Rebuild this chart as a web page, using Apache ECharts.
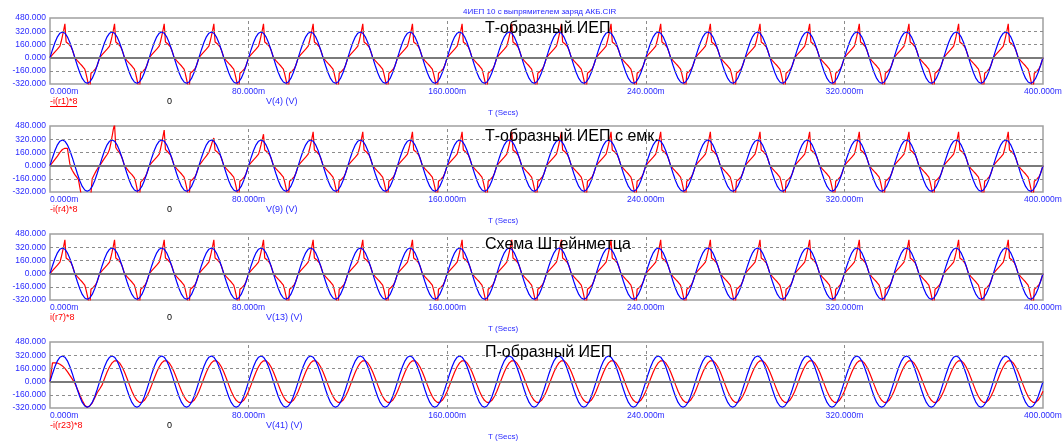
<!DOCTYPE html>
<html><head><meta charset="utf-8">
<script src="https://cdn.jsdelivr.net/npm/echarts@6/dist/echarts.min.js"></script>
<style>html,body{margin:0;padding:0;background:#fff}#c{width:1063px;height:443px}</style>
</head><body><div id="c"></div>
<script>
const fileTitle = '4ИЕП 10 с выпрямителем заряд АКБ.CIR';
const panelTitles = ['Т-образный ИЕП', 'Т-образный ИЕП с емк.', 'Схема Штейнметца', 'П-образный ИЕП'];
const currentLabels = ['-i(r1)*8', '-i(r4)*8', 'i(r7)*8', '-i(r23)*8'];
const voltageLabels = ['V(4) (V)', 'V(9) (V)', 'V(13) (V)', 'V(41) (V)'];
const xAxisName = 'T (Secs)';
const xTicks = [0, 80, 160, 240, 320, 400];
const yTicks = [-320, -160, 0, 160, 320, 480];
const voltageStepMs = 1;
const currentStepMs = [0.5, 0.5, 0.5, 1];

// source voltage, same in all four panels (1 ms samples)
const voltage = [
0,96,183,252,296,311,296,252,183,96,0,-96,-183,-252,-296,-311,-296,-252,-183,-96,
0,96,183,252,296,311,296,252,183,96,0,-96,-183,-252,-296,-311,-296,-252,-183,-96,
0,96,183,252,296,311,296,252,183,96,0,-96,-183,-252,-296,-311,-296,-252,-183,-96,
0,96,183,252,296,311,296,252,183,96,0,-96,-183,-252,-296,-311,-296,-252,-183,-96,
0,96,183,252,296,311,296,252,183,96,0,-96,-183,-252,-296,-311,-296,-252,-183,-96,
0,96,183,252,296,311,296,252,183,96,0,-96,-183,-252,-296,-311,-296,-252,-183,-96,
0,96,183,252,296,311,296,252,183,96,0,-96,-183,-252,-296,-311,-296,-252,-183,-96,
0,96,183,252,296,311,296,252,183,96,0,-96,-183,-252,-296,-311,-296,-252,-183,-96,
0,96,183,252,296,311,296,252,183,96,0,-96,-183,-252,-296,-311,-296,-252,-183,-96,
0,96,183,252,296,311,296,252,183,96,0,-96,-183,-252,-296,-311,-296,-252,-183,-96,
0,96,183,252,296,311,296,252,183,96,0,-96,-183,-252,-296,-311,-296,-252,-183,-96,
0,96,183,252,296,311,296,252,183,96,0,-96,-183,-252,-296,-311,-296,-252,-183,-96,
0,96,183,252,296,311,296,252,183,96,0,-96,-183,-252,-296,-311,-296,-252,-183,-96,
0,96,183,252,296,311,296,252,183,96,0,-96,-183,-252,-296,-311,-296,-252,-183,-96,
0,96,183,252,296,311,296,252,183,96,0,-96,-183,-252,-296,-311,-296,-252,-183,-96,
0,96,183,252,296,311,296,252,183,96,0,-96,-183,-252,-296,-311,-296,-252,-183,-96,
0,96,183,252,296,311,296,252,183,96,0,-96,-183,-252,-296,-311,-296,-252,-183,-96,
0,96,183,252,296,311,296,252,183,96,0,-96,-183,-252,-296,-311,-296,-252,-183,-96,
0,96,183,252,296,311,296,252,183,96,0,-96,-183,-252,-296,-311,-296,-252,-183,-96,
0,96,183,252,296,311,296,252,183,96,0,-96,-183,-252,-296,-311,-296,-252,-183,-96,
0];

// -i(r1)*8, 0.5 ms samples
const currentR1 = [
0,18,36,54,70,86,102,118,140,195,260,330,410,190,178,165,150,130,95,50,0,-18,-36,-54,-70,-86,-102,-118,-140,-195,-260,-330,-410,-190,-178,-165,-150,-130,-95,-50,
0,18,36,54,70,86,102,118,140,195,260,330,410,190,178,165,150,130,95,50,0,-18,-36,-54,-70,-86,-102,-118,-140,-195,-260,-330,-410,-190,-178,-165,-150,-130,-95,-50,
0,18,36,54,70,86,102,118,140,195,260,330,410,190,178,165,150,130,95,50,0,-18,-36,-54,-70,-86,-102,-118,-140,-195,-260,-330,-410,-190,-178,-165,-150,-130,-95,-50,
0,18,36,54,70,86,102,118,140,195,260,330,410,190,178,165,150,130,95,50,0,-18,-36,-54,-70,-86,-102,-118,-140,-195,-260,-330,-410,-190,-178,-165,-150,-130,-95,-50,
0,18,36,54,70,86,102,118,140,195,260,330,410,190,178,165,150,130,95,50,0,-18,-36,-54,-70,-86,-102,-118,-140,-195,-260,-330,-410,-190,-178,-165,-150,-130,-95,-50,
0,18,36,54,70,86,102,118,140,195,260,330,410,190,178,165,150,130,95,50,0,-18,-36,-54,-70,-86,-102,-118,-140,-195,-260,-330,-410,-190,-178,-165,-150,-130,-95,-50,
0,18,36,54,70,86,102,118,140,195,260,330,410,190,178,165,150,130,95,50,0,-18,-36,-54,-70,-86,-102,-118,-140,-195,-260,-330,-410,-190,-178,-165,-150,-130,-95,-50,
0,18,36,54,70,86,102,118,140,195,260,330,410,190,178,165,150,130,95,50,0,-18,-36,-54,-70,-86,-102,-118,-140,-195,-260,-330,-410,-190,-178,-165,-150,-130,-95,-50,
0,18,36,54,70,86,102,118,140,195,260,330,410,190,178,165,150,130,95,50,0,-18,-36,-54,-70,-86,-102,-118,-140,-195,-260,-330,-410,-190,-178,-165,-150,-130,-95,-50,
0,18,36,54,70,86,102,118,140,195,260,330,410,190,178,165,150,130,95,50,0,-18,-36,-54,-70,-86,-102,-118,-140,-195,-260,-330,-410,-190,-178,-165,-150,-130,-95,-50,
0,18,36,54,70,86,102,118,140,195,260,330,410,190,178,165,150,130,95,50,0,-18,-36,-54,-70,-86,-102,-118,-140,-195,-260,-330,-410,-190,-178,-165,-150,-130,-95,-50,
0,18,36,54,70,86,102,118,140,195,260,330,410,190,178,165,150,130,95,50,0,-18,-36,-54,-70,-86,-102,-118,-140,-195,-260,-330,-410,-190,-178,-165,-150,-130,-95,-50,
0,18,36,54,70,86,102,118,140,195,260,330,410,190,178,165,150,130,95,50,0,-18,-36,-54,-70,-86,-102,-118,-140,-195,-260,-330,-410,-190,-178,-165,-150,-130,-95,-50,
0,18,36,54,70,86,102,118,140,195,260,330,410,190,178,165,150,130,95,50,0,-18,-36,-54,-70,-86,-102,-118,-140,-195,-260,-330,-410,-190,-178,-165,-150,-130,-95,-50,
0,18,36,54,70,86,102,118,140,195,260,330,410,190,178,165,150,130,95,50,0,-18,-36,-54,-70,-86,-102,-118,-140,-195,-260,-330,-410,-190,-178,-165,-150,-130,-95,-50,
0,18,36,54,70,86,102,118,140,195,260,330,410,190,178,165,150,130,95,50,0,-18,-36,-54,-70,-86,-102,-118,-140,-195,-260,-330,-410,-190,-178,-165,-150,-130,-95,-50,
0,18,36,54,70,86,102,118,140,195,260,330,410,190,178,165,150,130,95,50,0,-18,-36,-54,-70,-86,-102,-118,-140,-195,-260,-330,-410,-190,-178,-165,-150,-130,-95,-50,
0,18,36,54,70,86,102,118,140,195,260,330,410,190,178,165,150,130,95,50,0,-18,-36,-54,-70,-86,-102,-118,-140,-195,-260,-330,-410,-190,-178,-165,-150,-130,-95,-50,
0,18,36,54,70,86,102,118,140,195,260,330,410,190,178,165,150,130,95,50,0,-18,-36,-54,-70,-86,-102,-118,-140,-195,-260,-330,-410,-190,-178,-165,-150,-130,-95,-50,
0,18,36,54,70,86,102,118,140,195,260,330,410,190,178,165,150,130,95,50,0,-18,-36,-54,-70,-86,-102,-118,-140,-195,-260,-330,-410,-190,-178,-165,-150,-130,-95,-50,
0];

// -i(r4)*8, 0.5 ms samples (start-up transient in the first cycles)
const currentR4 = [
0,15,35,55,75,95,115,135,160,180,195,205,210,212,210,200,20,-30,-60,-85,-110,-130,-150,-175,-260,-340,-360,-370,-370,-370,-365,-360,-350,-340,-160,-130,-100,-70,-45,-20,
0,20,45,65,90,110,135,160,200,270,350,440,500,220,195,175,155,130,95,50,0,-20,-40,-60,-80,-95,-110,-125,-150,-200,-270,-350,-420,-200,-185,-170,-150,-130,-95,-50,
0,18,36,54,70,86,102,118,140,200,270,350,430,195,180,165,150,130,95,50,0,-18,-36,-54,-70,-86,-102,-118,-140,-195,-260,-330,-410,-190,-178,-165,-150,-130,-95,-50,
0,20,40,60,80,100,118,136,160,205,250,300,335,185,175,162,150,130,95,50,0,-18,-36,-54,-70,-86,-102,-118,-140,-195,-260,-330,-410,-190,-178,-165,-150,-130,-95,-50,
0,18,36,54,70,86,102,118,140,190,250,315,380,190,178,165,150,130,95,50,0,-18,-36,-54,-70,-86,-102,-118,-140,-195,-260,-330,-410,-190,-178,-165,-150,-130,-95,-50,
0,18,36,54,70,86,102,118,140,195,260,330,410,190,178,165,150,130,95,50,0,-18,-36,-54,-70,-86,-102,-118,-140,-195,-260,-330,-410,-190,-178,-165,-150,-130,-95,-50,
0,18,36,54,70,86,102,118,140,195,260,330,410,190,178,165,150,130,95,50,0,-18,-36,-54,-70,-86,-102,-118,-140,-195,-260,-330,-410,-190,-178,-165,-150,-130,-95,-50,
0,18,36,54,70,86,102,118,140,195,260,330,410,190,178,165,150,130,95,50,0,-18,-36,-54,-70,-86,-102,-118,-140,-195,-260,-330,-410,-190,-178,-165,-150,-130,-95,-50,
0,18,36,54,70,86,102,118,140,195,260,330,410,190,178,165,150,130,95,50,0,-18,-36,-54,-70,-86,-102,-118,-140,-195,-260,-330,-410,-190,-178,-165,-150,-130,-95,-50,
0,18,36,54,70,86,102,118,140,195,260,330,410,190,178,165,150,130,95,50,0,-18,-36,-54,-70,-86,-102,-118,-140,-195,-260,-330,-410,-190,-178,-165,-150,-130,-95,-50,
0,18,36,54,70,86,102,118,140,195,260,330,410,190,178,165,150,130,95,50,0,-18,-36,-54,-70,-86,-102,-118,-140,-195,-260,-330,-410,-190,-178,-165,-150,-130,-95,-50,
0,18,36,54,70,86,102,118,140,195,260,330,410,190,178,165,150,130,95,50,0,-18,-36,-54,-70,-86,-102,-118,-140,-195,-260,-330,-410,-190,-178,-165,-150,-130,-95,-50,
0,18,36,54,70,86,102,118,140,195,260,330,410,190,178,165,150,130,95,50,0,-18,-36,-54,-70,-86,-102,-118,-140,-195,-260,-330,-410,-190,-178,-165,-150,-130,-95,-50,
0,18,36,54,70,86,102,118,140,195,260,330,410,190,178,165,150,130,95,50,0,-18,-36,-54,-70,-86,-102,-118,-140,-195,-260,-330,-410,-190,-178,-165,-150,-130,-95,-50,
0,18,36,54,70,86,102,118,140,195,260,330,410,190,178,165,150,130,95,50,0,-18,-36,-54,-70,-86,-102,-118,-140,-195,-260,-330,-410,-190,-178,-165,-150,-130,-95,-50,
0,18,36,54,70,86,102,118,140,195,260,330,410,190,178,165,150,130,95,50,0,-18,-36,-54,-70,-86,-102,-118,-140,-195,-260,-330,-410,-190,-178,-165,-150,-130,-95,-50,
0,18,36,54,70,86,102,118,140,195,260,330,410,190,178,165,150,130,95,50,0,-18,-36,-54,-70,-86,-102,-118,-140,-195,-260,-330,-410,-190,-178,-165,-150,-130,-95,-50,
0,18,36,54,70,86,102,118,140,195,260,330,410,190,178,165,150,130,95,50,0,-18,-36,-54,-70,-86,-102,-118,-140,-195,-260,-330,-410,-190,-178,-165,-150,-130,-95,-50,
0,18,36,54,70,86,102,118,140,195,260,330,410,190,178,165,150,130,95,50,0,-18,-36,-54,-70,-86,-102,-118,-140,-195,-260,-330,-410,-190,-178,-165,-150,-130,-95,-50,
0,18,36,54,70,86,102,118,140,195,260,330,410,190,178,165,150,130,95,50,0,-18,-36,-54,-70,-86,-102,-118,-140,-195,-260,-330,-410,-190,-178,-165,-150,-130,-95,-50,
0];

// i(r7)*8 reads the same as -i(r1)*8 in the picture
const currentR7 = currentR1;

// -i(r23)*8, 1 ms samples
const currentR23 = [
0,228,228,225,210,190,160,120,75,30,-20,-90,-160,-230,-285,-310,-295,-260,-200,-135,
-90,-40,40,116,180,227,252,252,227,180,116,40,-40,-116,-180,-227,-252,-252,-227,-180,
-116,-40,40,116,180,227,252,252,227,180,116,40,-40,-116,-180,-227,-252,-252,-227,-180,
-116,-40,40,116,180,227,252,252,227,180,116,40,-40,-116,-180,-227,-252,-252,-227,-180,
-116,-40,40,116,180,227,252,252,227,180,116,40,-40,-116,-180,-227,-252,-252,-227,-180,
-116,-40,40,116,180,227,252,252,227,180,116,40,-40,-116,-180,-227,-252,-252,-227,-180,
-116,-40,40,116,180,227,252,252,227,180,116,40,-40,-116,-180,-227,-252,-252,-227,-180,
-116,-40,40,116,180,227,252,252,227,180,116,40,-40,-116,-180,-227,-252,-252,-227,-180,
-116,-40,40,116,180,227,252,252,227,180,116,40,-40,-116,-180,-227,-252,-252,-227,-180,
-116,-40,40,116,180,227,252,252,227,180,116,40,-40,-116,-180,-227,-252,-252,-227,-180,
-116,-40,40,116,180,227,252,252,227,180,116,40,-40,-116,-180,-227,-252,-252,-227,-180,
-116,-40,40,116,180,227,252,252,227,180,116,40,-40,-116,-180,-227,-252,-252,-227,-180,
-116,-40,40,116,180,227,252,252,227,180,116,40,-40,-116,-180,-227,-252,-252,-227,-180,
-116,-40,40,116,180,227,252,252,227,180,116,40,-40,-116,-180,-227,-252,-252,-227,-180,
-116,-40,40,116,180,227,252,252,227,180,116,40,-40,-116,-180,-227,-252,-252,-227,-180,
-116,-40,40,116,180,227,252,252,227,180,116,40,-40,-116,-180,-227,-252,-252,-227,-180,
-116,-40,40,116,180,227,252,252,227,180,116,40,-40,-116,-180,-227,-252,-252,-227,-180,
-116,-40,40,116,180,227,252,252,227,180,116,40,-40,-116,-180,-227,-252,-252,-227,-180,
-116,-40,40,116,180,227,252,252,227,180,116,40,-40,-116,-180,-227,-252,-252,-227,-180,
-116,-40,40,116,180,227,252,252,227,180,116,40,-40,-116,-180,-227,-252,-252,-227,-180,
-116];

const currents = [currentR1, currentR4, currentR7, currentR23];

// ---------- presentation ----------
const BLUE = '#0000ff', RED = '#ff0000', LBLUE = '#2a2aff';
const FONT = 'Liberation Sans, Arial, sans-serif';
const PANEL_TOP = 18, PANEL_GAP = 108, PANEL_H = 66, LEFT = 50, RIGHT = 20;

const grids = [], xAxes = [], yAxes = [], series = [], graphics = [];
const innerY = yTicks.filter(v => v !== yTicks[0] && v !== yTicks[yTicks.length - 1] && v !== 0);
const innerX = xTicks.filter(v => v !== xTicks[0] && v !== xTicks[xTicks.length - 1]);

for (let i = 0; i < 4; i++) {
  const top = PANEL_TOP + PANEL_GAP * i;
  grids.push({ left: LEFT, right: RIGHT, top: top, height: PANEL_H, show: true,
    borderColor: '#a0a0a0', borderWidth: 1.5, backgroundColor: '#fff', outerBoundsMode: 'none' });
  xAxes.push({ type: 'value', gridIndex: i, min: xTicks[0], max: xTicks[xTicks.length - 1], interval: 80,
    axisLine: { show: false }, axisTick: { show: false }, splitLine: { show: false },
    axisLabel: { color: LBLUE, fontSize: 8.5, fontFamily: FONT, margin: 3, alignMinLabel: 'left',
      formatter: v => v.toFixed(3) + 'm' } });
  yAxes.push({ type: 'value', gridIndex: i, min: yTicks[0], max: yTicks[yTicks.length - 1], interval: 160,
    axisLine: { show: false }, axisTick: { show: false }, splitLine: { show: false },
    axisLabel: { color: LBLUE, fontSize: 8.5, fontFamily: FONT, margin: 4,
      formatter: v => v.toFixed(3) } });
  // reference lines
  series.push({ type: 'line', xAxisIndex: i, yAxisIndex: i, data: [[0, 0]], symbol: 'none', silent: true,
    lineStyle: { width: 0, opacity: 0 }, z: 1,
    markLine: { silent: true, symbol: 'none', label: { show: false }, animation: false,
      data: [
        ...innerY.map(v => ({ yAxis: v, lineStyle: { color: '#8c8c8c', type: [3, 3], width: 1 } })),
        ...innerX.map(v => ({ xAxis: v, lineStyle: { color: '#8c8c8c', type: [3, 3], width: 1 } })),
        { yAxis: 0, lineStyle: { color: '#7a7a7a', type: 'solid', width: 2 } }
      ] } });
  const cs = currentStepMs[i];
  series.push({ type: 'line', name: currentLabels[i], xAxisIndex: i, yAxisIndex: i, z: 3,
    data: currents[i].map((v, k) => [k * cs, v]), symbol: 'none', clip: true,
    lineStyle: { color: RED, width: 1.2 } });
  series.push({ type: 'line', name: voltageLabels[i], xAxisIndex: i, yAxisIndex: i, z: 4,
    data: voltage.map((v, k) => [k * voltageStepMs, v]), symbol: 'none', clip: true,
    lineStyle: { color: BLUE, width: 1.2 } });

  graphics.push({ type: 'text', left: 485, top: top + 3, z: 10,
    style: { text: panelTitles[i], fill: '#000', font: '16px ' + FONT } });
  const ly = top + 84;
  graphics.push({ type: 'text', left: 50, top: ly - 5, style: { text: currentLabels[i], fill: RED, font: '9px ' + FONT } });
  graphics.push({ type: 'text', left: 167, top: ly - 5, style: { text: '0', fill: '#000', font: '9px ' + FONT } });
  graphics.push({ type: 'text', left: 266, top: ly - 5, style: { text: voltageLabels[i], fill: LBLUE, font: '9px ' + FONT } });
  graphics.push({ type: 'text', left: 488, top: top + 91, style: { text: xAxisName, fill: LBLUE, font: '8px ' + FONT } });
}
graphics.push({ type: 'line', shape: { x1: 50, y1: 106.5, x2: 77, y2: 106.5 }, style: { stroke: RED, lineWidth: 1 } });
graphics.push({ type: 'text', left: 463, top: 8, style: { text: fileTitle, fill: LBLUE, font: '8px ' + FONT } });

const chart = echarts.init(document.getElementById('c'), null, { renderer: 'canvas' });
chart.setOption({ animation: false, backgroundColor: '#fff', grid: grids, xAxis: xAxes, yAxis: yAxes,
  series: series, graphic: graphics });
</script></body></html>
